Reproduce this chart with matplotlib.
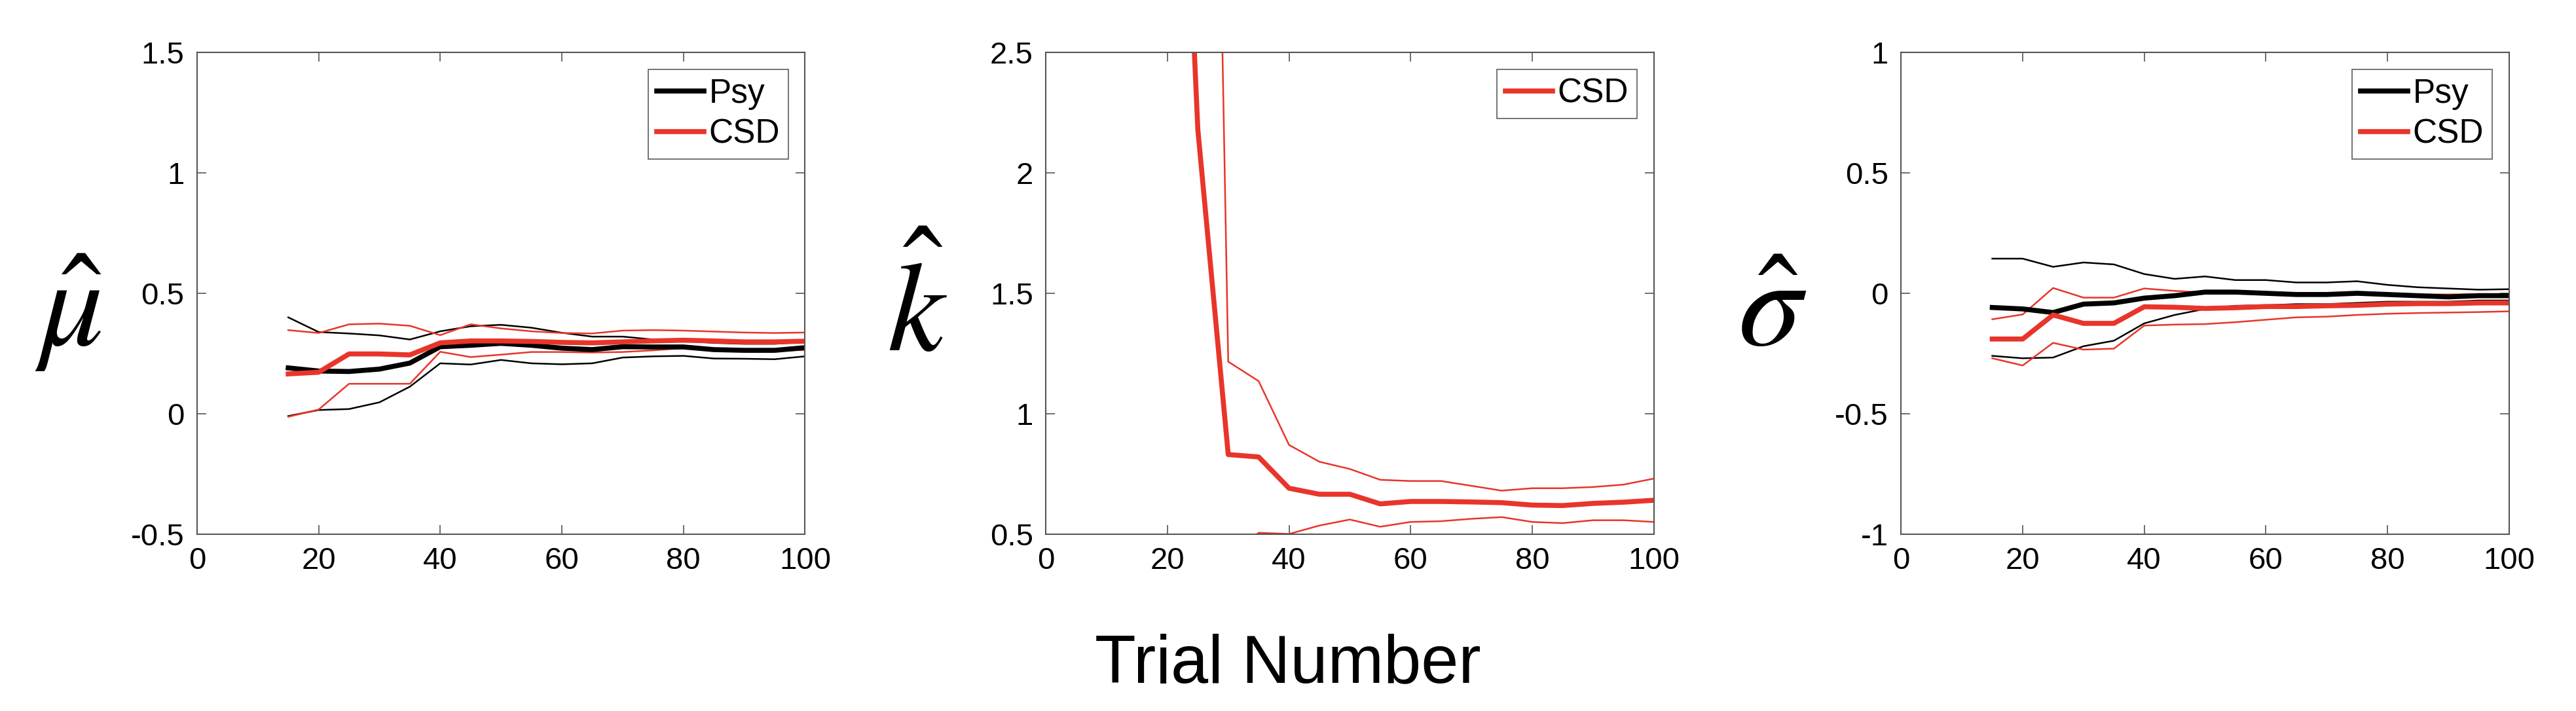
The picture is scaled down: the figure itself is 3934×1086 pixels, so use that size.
import numpy as np
import matplotlib
matplotlib.use("Agg")
import matplotlib.pyplot as plt

plt.rcParams['font.family'] = ['Liberation Sans', 'DejaVu Sans']
plt.rcParams['mathtext.fontset'] = 'stix'

trials = np.arange(15, 101, 5)

# panel 1: mu hat
mu_psy = [0.19, 0.177, 0.175, 0.185, 0.21, 0.278, 0.284, 0.292, 0.284, 0.272, 0.266, 0.278, 0.277, 0.277, 0.266, 0.263, 0.263, 0.274]
mu_psy_hi = [0.40, 0.339, 0.333, 0.325, 0.308, 0.342, 0.363, 0.369, 0.357, 0.336, 0.32, 0.32, 0.308, 0.302, 0.294, 0.29, 0.29, 0.298]
mu_psy_lo = [-0.01, 0.015, 0.019, 0.047, 0.112, 0.209, 0.204, 0.223, 0.209, 0.205, 0.209, 0.233, 0.238, 0.24, 0.229, 0.228, 0.226, 0.238]
mu_csd = [0.165, 0.172, 0.248, 0.248, 0.244, 0.294, 0.302, 0.302, 0.3, 0.296, 0.294, 0.298, 0.302, 0.305, 0.302, 0.298, 0.298, 0.301]
mu_csd_hi = [0.347, 0.335, 0.371, 0.374, 0.365, 0.326, 0.371, 0.354, 0.342, 0.335, 0.333, 0.345, 0.347, 0.345, 0.341, 0.337, 0.335, 0.337]
mu_csd_lo = [-0.013, 0.017, 0.124, 0.124, 0.124, 0.257, 0.235, 0.245, 0.256, 0.256, 0.254, 0.256, 0.263, 0.272, 0.262, 0.26, 0.26, 0.265]

# panel 2: k hat
k_csd = [7.0, 5.0, 2.18, 0.83, 0.82, 0.69, 0.665, 0.665, 0.625, 0.635, 0.635, 0.633, 0.63, 0.62, 0.618, 0.627, 0.632, 0.64]
k_csd_hi = [12.0, 10.0, 8.0, 1.216, 1.135, 0.87, 0.8, 0.77, 0.725, 0.72, 0.72, 0.70, 0.68, 0.69, 0.69, 0.695, 0.705, 0.73]
k_csd_lo = [0.05, 0.1, 0.2, 0.4, 0.505, 0.5, 0.535, 0.56, 0.53, 0.55, 0.553, 0.563, 0.57, 0.55, 0.545, 0.557, 0.557, 0.55]

# panel 3: sigma hat
s_psy = [-0.059, -0.065, -0.08, -0.045, -0.04, -0.02, -0.01, 0.005, 0.005, 0.0, -0.005, -0.005, 0.0, -0.005, -0.01, -0.015, -0.01, -0.01]
s_psy_hi = [0.144, 0.144, 0.11, 0.128, 0.12, 0.08, 0.06, 0.07, 0.055, 0.055, 0.045, 0.045, 0.05, 0.035, 0.025, 0.02, 0.015, 0.017]
s_psy_lo = [-0.26, -0.27, -0.267, -0.22, -0.197, -0.125, -0.09, -0.065, -0.052, -0.05, -0.045, -0.045, -0.04, -0.035, -0.035, -0.035, -0.03, -0.03]
s_csd = [-0.19, -0.19, -0.09, -0.125, -0.125, -0.056, -0.058, -0.063, -0.06, -0.055, -0.055, -0.052, -0.05, -0.045, -0.043, -0.043, -0.04, -0.04]
s_csd_hi = [-0.108, -0.088, 0.022, -0.018, -0.018, 0.02, 0.01, 0.003, 0.003, 0.0, -0.003, -0.005, -0.005, -0.005, -0.005, -0.005, -0.003, -0.003]
s_csd_lo = [-0.27, -0.3, -0.206, -0.234, -0.23, -0.134, -0.13, -0.128, -0.12, -0.11, -0.1, -0.097, -0.09, -0.085, -0.082, -0.08, -0.078, -0.075]

red = "#e8352a"
dpi = 100
fig = plt.figure(figsize=(3934/dpi, 1086/dpi), dpi=dpi)


def style_axes(ax, ylim, yticks, yticklabels):
    ax.set_xlim(0, 100)
    ax.set_ylim(*ylim)
    ax.set_xticks([0, 20, 40, 60, 80, 100])
    ax.set_yticks(yticks)
    ax.set_yticklabels(yticklabels)
    ax.tick_params(direction="in", length=10, width=1.2, color="#555555",
                   top=True, right=True, labelsize=34, pad=14)
    for s in ax.spines.values():
        s.set_color("#555555")
        s.set_linewidth(1.5)


def band(ax, lo, hi, color):
    ax.plot(trials, hi, color=color, lw=1.8)
    ax.plot(trials, lo, color=color, lw=1.8)


lefts = [0.0765, 0.406, 0.738]
w, b, h = 0.236, 0.249, 0.677

ax1 = fig.add_axes([lefts[0], b, w, h])
band(ax1, mu_psy_lo, mu_psy_hi, "black")
band(ax1, mu_csd_lo, mu_csd_hi, red)
ax1.plot(trials, mu_psy, color="black", lw=5.5, label="Psy")
ax1.plot(trials, mu_csd, color=red, lw=5.5, label="CSD")
style_axes(ax1, (-0.5, 1.5), [-0.5, 0, 0.5, 1, 1.5], ["-0.5", "0", "0.5", "1", "1.5"])

ax2 = fig.add_axes([lefts[1], b, w, h])
band(ax2, k_csd_lo, k_csd_hi, red)
ax2.plot(trials, k_csd, color=red, lw=5.5, label="CSD")
style_axes(ax2, (0.5, 2.5), [0.5, 1, 1.5, 2, 2.5], ["0.5", "1", "1.5", "2", "2.5"])

ax3 = fig.add_axes([lefts[2], b, w, h])
band(ax3, s_psy_lo, s_psy_hi, "black")
band(ax3, s_csd_lo, s_csd_hi, red)
ax3.plot(trials, s_psy, color="black", lw=5.5, label="Psy")
ax3.plot(trials, s_csd, color=red, lw=5.5, label="CSD")
style_axes(ax3, (-1, 1), [-1, -0.5, 0, 0.5, 1], ["-1", "-0.5", "0", "0.5", "1"])

for ax in (ax1, ax2, ax3):
    leg = ax.legend(loc="upper right", fontsize=37, fancybox=False, handlelength=1.4,
                    handletextpad=0.15, borderpad=0.25, labelspacing=0.25,
                    borderaxespad=0.5)
    leg.get_frame().set_edgecolor("#333333")
    leg.get_frame().set_linewidth(1.2)

labels = [r"$\hat{\mu}$", r"$\hat{k}$", r"$\hat{\sigma}$"]
for left, lab in zip(lefts, labels):
    fig.text(left - 0.05, 0.56, lab, fontsize=140, ha="center", va="center")

fig.text(0.5, 0.065, "Trial Number", fontsize=74, ha="center", va="center")

fig.savefig("out.png", dpi=dpi)
plt.close()
